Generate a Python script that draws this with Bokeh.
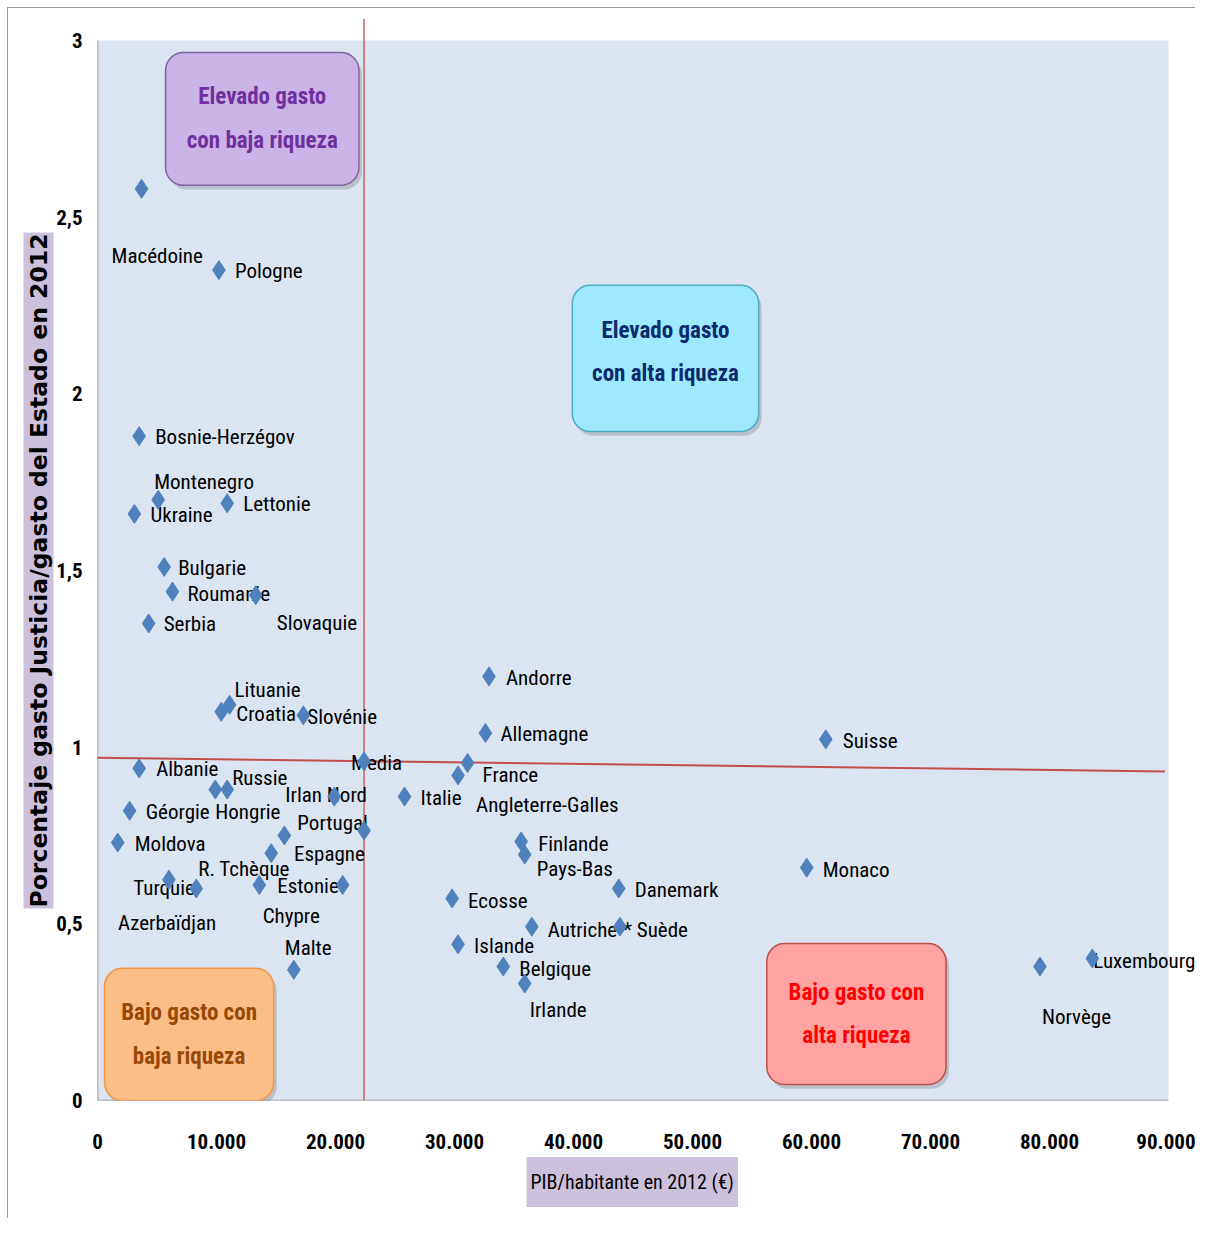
from bokeh.plotting import figure
from bokeh.models import Range1d, Title, FixedTicker, ColumnDataSource
from bokeh.core.properties import value
from bokeh.embed import file_html
from bokeh.resources import INLINE

# ---------------- data ----------------
countries = ["Macédoine", "Pologne", "Bosnie-Herzégov", "Montenegro", "Ukraine", "Lettonie",
             "Bulgarie", "Roumanie", "Slovaquie", "Serbia", "Lituanie", "Croatia", "Slovénie",
             "Media", "Albanie", "Russie", "Hongrie", "Irlan Nord", "Géorgie", "Portugal",
             "Moldova", "Espagne", "R. Tchèque", "Estonie", "Chypre", "Turquie", "Azerbaïdjan",
             "Malte", "Italie", "France", "Angleterre-Galles", "Andorre", "Allemagne",
             "Finlande", "Pays-Bas", "Danemark", "Ecosse", "Autriche", "* Suède", "Islande",
             "Belgique", "Irlande", "Suisse", "Monaco", "Norvège", "Luxembourg"]
pib_2012 = [3700, 10200, 3500, 5100, 3100, 10900,
            5600, 6300, 13300, 4300, 11100, 10400, 17300,
            22400, 3500, 10900, 9900, 19900, 2700, 15700,
            1700, 22400, 14600, 13600, 20600, 8300, 6000,
            16500, 25800, 31100, 30300, 32900, 32600,
            35600, 35900, 43800, 29800, 36500, 43900, 30300,
            34100, 35900, 61200, 59600, 79200, 83600]
justice_pct = [2.58, 2.35, 1.88, 1.70, 1.66, 1.69,
               1.51, 1.44, 1.43, 1.35, 1.12, 1.10, 1.09,
               0.96, 0.94, 0.88, 0.88, 0.86, 0.82, 0.75,
               0.73, 0.764, 0.70, 0.61, 0.61, 0.60, 0.625,
               0.37, 0.86, 0.955, 0.92, 1.20, 1.04,
               0.733, 0.696, 0.60, 0.572, 0.492, 0.492, 0.442,
               0.379, 0.331, 1.022, 0.659, 0.379, 0.402]

x_ticks = [0, 10000, 20000, 30000, 40000, 50000, 60000, 70000, 80000, 90000]
x_tick_labels = ["0", "10.000", "20.000", "30.000", "40.000", "50.000", "60.000",
                 "70.000", "80.000", "90.000"]
y_ticks = [0, 0.5, 1, 1.5, 2, 2.5, 3]
y_tick_labels = ["0", "0,5", "1", "1,5", "2", "2,5", "3"]

x_title = "PIB/habitante en 2012 (€)"
y_title = "Porcentaje gasto Justicia/gasto del Estado en 2012"

box_texts = ["Elevado gasto\ncon baja riqueza", "Elevado gasto\ncon alta riqueza",
             "Bajo gasto con\nbaja riqueza", "Bajo gasto con\nalta riqueza"]

# ---------------- layout / style ----------------
# label offsets in screen pixels (dx right, dy down)
label_dx = [-30, 16, 16, -4, 16, 16,
            14, 15, 21, 15, 5, 15, 4,
            -13, 17, 5, 0, -49, 16, 13,
            17, -70, -73, 18, -80, -63, -51,
            -9, 16, 15, 18, 17, 15,
            17, 12, 16, 16, 16, 3, 16,
            16, 5, 17, 16, 2, 1]
label_dy = [67, 1, 1, -18, 1, 1,
            1, 2, 28, 1, -15, 2, 2,
            2, 1, -12, 22, -2, 1, -12,
            1, 23, 16, 1, 31, 0, 43,
            -22, 1, 12, 30, 2, 1,
            3, 14, 2, 3, 3, 3, 2,
            2, 26, 2, 2, 50, 3]

box_left = [5720, 39900, 590, 56240]
box_right = [21970, 55560, 14800, 71310]
box_bottom = [2.590, 1.893, 0.0, 0.045]
box_top = [2.966, 2.307, 0.374, 0.444]
box_text_dy = [0.0, 0.018, 0.0, 0.0]
box_fill = ["#cab3e6", "#9fe9ff", "#fbbe86", "#ffa3a3"]
box_line = ["#8064a2", "#4bacc6", "#f79646", "#c0504d"]
box_text_color = ["#7030a0", "#0b2a6b", "#984807", "#ff0000"]

vline_x = [22400, 22400]
vline_y = [-0.015, 3.062]
hline_x = [-150, 89700]
hline_y = [0.970, 0.931]

NARROW = "Roboto Condensed, Noto Sans Condensed, DejaVu Sans Condensed, sans-serif"

p = figure(width=1195, height=1218, output_backend="svg", toolbar_location=None,
           x_range=Range1d(0, 92269), y_range=Range1d(0, 3.062),
           min_border_left=97, min_border_right=0, min_border_top=18, min_border_bottom=118,
           styles={"box-shadow": "inset 7px 7px 0 0 #ffffff, inset 8px 8px 0 0 #9a9a9a"})
p.background_fill_color = "white"
p.border_fill_color = None
p.outline_line_color = None
p.xgrid.visible = False
p.ygrid.visible = False

p.quad(left=[0], right=[90000], bottom=[0], top=[3], fill_color="#dbe5f1", line_color=None)
p.line(x=[0, 0], y=[0, 3], line_color="#868686", line_width=1.5)
p.line(x=[0, 90000], y=[0, 0], line_color="#868686", line_width=1.5)

p.line(x=vline_x, y=vline_y, line_color="#c0504d", line_width=1.3)
p.line(x=hline_x, y=hline_y, line_color="#c0504d", line_width=2)

src = ColumnDataSource(dict(x=pib_2012, y=justice_pct, name=countries, dx=label_dx, dy=label_dy))
p.text(x="x", y="y", text="name", x_offset="dx", y_offset="dy", source=src,
       text_font=value(NARROW), text_font_size="21px", text_color="black",
       text_align="left", text_baseline="middle")
p.scatter(x="x", y="y", source=src, marker="diamond", size=19,
          fill_color="#4f81bd", line_color="#4f81bd")

sx = 250
sy = 0.012
p.quad(left=[l + sx for l in box_left], right=[r + sx for r in box_right],
       bottom=[b - sy for b in box_bottom], top=[t - sy for t in box_top],
       fill_color="#555555", fill_alpha=0.25, line_color=None, border_radius=18)
p.quad(left=box_left, right=box_right, bottom=box_bottom, top=box_top,
       fill_color=box_fill, line_color=box_line, line_width=1.5, border_radius=18)
bx = [(l + r) / 2 for l, r in zip(box_left, box_right)]
by = [(b + t) / 2 + d for b, t, d in zip(box_bottom, box_top, box_text_dy)]
p.text(x=bx, y=by, text=box_texts, text_color=box_text_color,
       text_font=value(NARROW), text_font_style="bold", text_font_size="23px",
       text_align="center", text_baseline="middle", text_line_height=1.62)

for ax in (p.xaxis[0], p.yaxis[0]):
    ax.axis_line_color = None
    ax.major_tick_line_color = None
    ax.minor_tick_line_color = None
    ax.major_tick_out = 0
    ax.major_tick_in = 0
    ax.minor_tick_out = 0
    ax.major_label_text_font = NARROW
    ax.major_label_text_font_style = "bold"
    ax.major_label_text_font_size = "21px"
    ax.major_label_text_color = "black"

p.xaxis[0].ticker = FixedTicker(ticks=x_ticks)
p.xaxis[0].major_label_overrides = dict(zip(x_ticks, x_tick_labels))
p.xaxis[0].major_label_standoff = 33
p.yaxis[0].ticker = FixedTicker(ticks=y_ticks)
p.yaxis[0].major_label_overrides = dict(zip(y_ticks, y_tick_labels))
p.yaxis[0].major_label_standoff = 15

yt = Title(text=y_title, align="left", offset=192, text_font="DejaVu Sans",
           text_font_style="bold", text_font_size="23.5px", text_color="black",
           background_fill_color="#ccc1da", padding=1, standoff=0)
p.add_layout(yt, "left")
xt = Title(text=x_title, align="left", offset=429, text_font=NARROW, text_font_style="normal",
           text_font_size="20px", text_color="black", background_fill_color="#ccc1da",
           padding=(4, 13), standoff=7)
p.add_layout(xt, "below")

open("out.html", "w").write(file_html(p, INLINE))
